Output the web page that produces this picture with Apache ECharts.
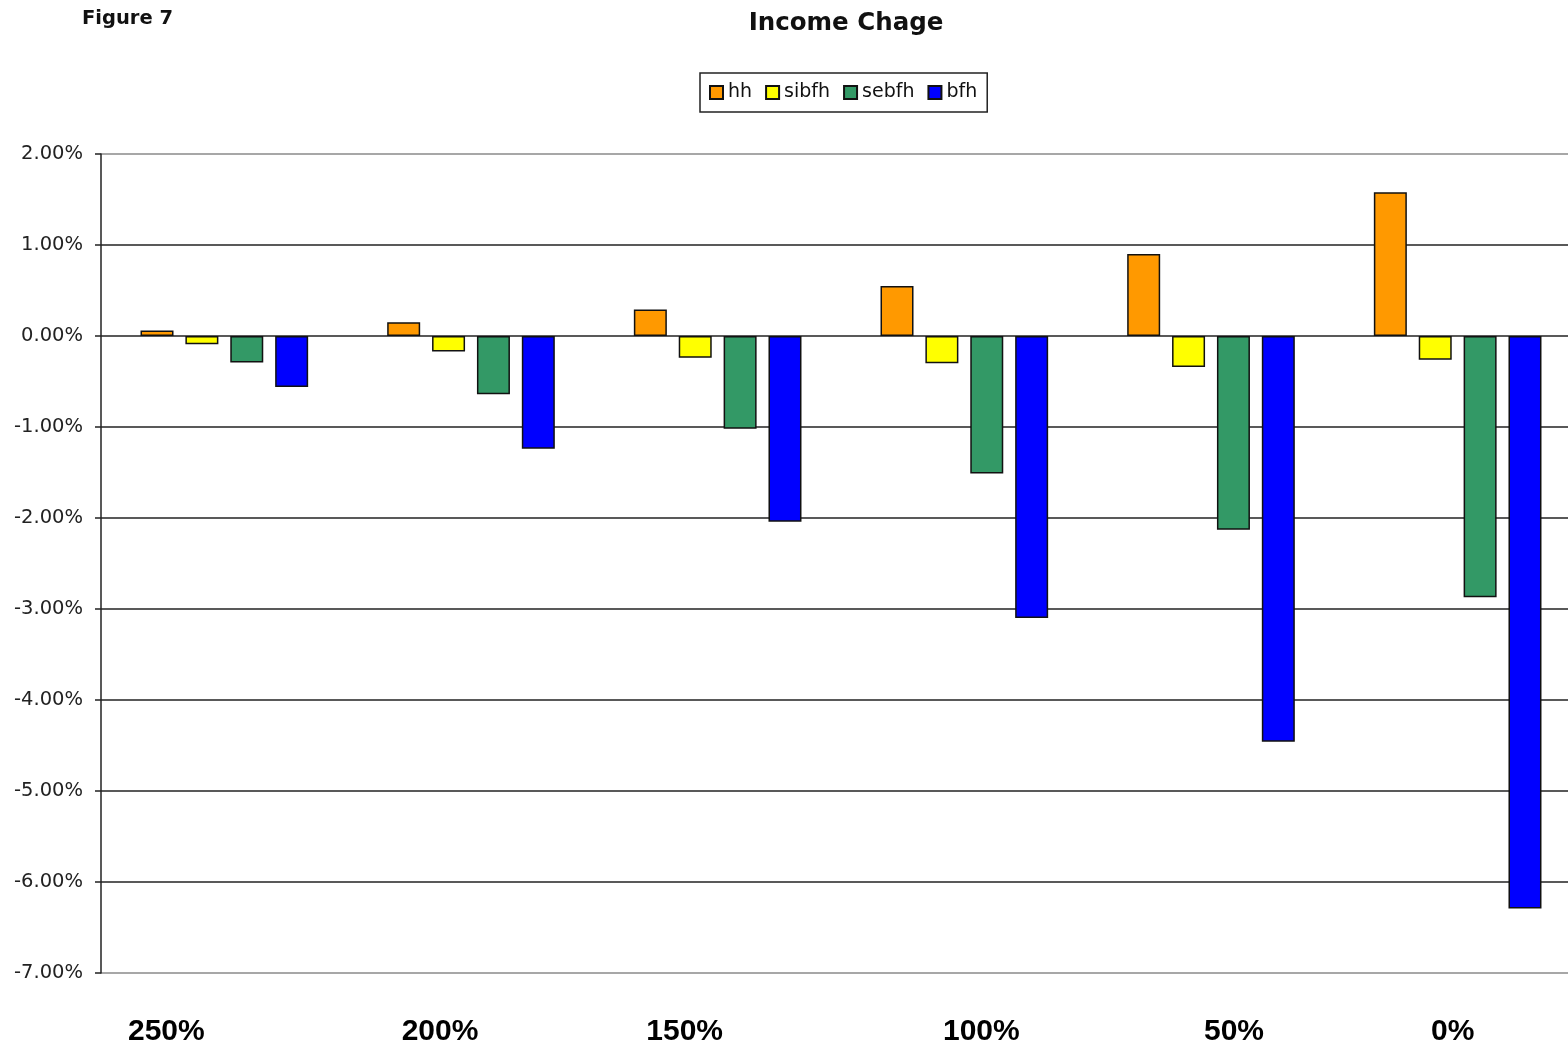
<!DOCTYPE html>
<html>
<head>
<meta charset="utf-8">
<script src="https://cdn.jsdelivr.net/npm/echarts@6/dist/echarts.min.js"></script>
<style>
  html, body { margin: 0; padding: 0; background: #fff; }
  #chart { width: 1568px; height: 1050px; }
</style>
</head>
<body>
<div id="chart"></div>
<script>
// Income change by threshold level (percent)
const categories = ['250%', '200%', '150%', '100%', '50%', '0%'];
const hh    = [0.06, 0.15, 0.29, 0.55, 0.90, 1.58];
const sibfh = [-0.09, -0.17, -0.24, -0.30, -0.34, -0.26];
const sebfh = [-0.29, -0.64, -1.02, -1.51, -2.13, -2.87];
const bfh   = [-0.56, -1.24, -2.04, -3.10, -4.46, -6.29];
const yTicks = { min: -7, max: 2, step: 1 };

// horizontal nudge of each category caption (px, negative = left)
const captionNudge = [-58, -31, -33, 17, 23, -5];

const sans = '"DejaVu Sans", Verdana, sans-serif';
const arial = '"Liberation Sans", Arial, sans-serif';

function barSeries(name, data, color) {
  return {
    name: name,
    type: 'bar',
    data: data,
    barWidth: 33,
    barGap: '36%',
    itemStyle: { color: color, borderColor: '#111', borderWidth: 1.5 },
    emphasis: { disabled: true }
  };
}

const rich = {};
categories.forEach((c, i) => {
  const d = captionNudge[i];
  rich['c' + i] = {
    fontFamily: arial, fontSize: 30, fontWeight: 'bold', color: '#000',
    padding: d < 0 ? [0, -2 * d, 0, 0] : [0, 0, 0, 2 * d]
  };
});

const splitColors = [];
for (let v = yTicks.min; v <= yTicks.max; v += yTicks.step) {
  splitColors.push(v === yTicks.min || v === yTicks.max ? '#8a8a8a' : '#222');
}

const chart = echarts.init(document.getElementById('chart'), null, { renderer: 'canvas' });
chart.setOption({
  animation: false,
  backgroundColor: '#fff',
  title: [
    {
      text: 'Figure 7', left: 77, top: 4,
      textStyle: { fontFamily: sans, fontSize: 19.5, fontWeight: 'bold', color: '#111' }
    },
    {
      text: 'Income Chage', left: 841, top: 6, textAlign: 'center',
      textStyle: { fontFamily: sans, fontSize: 24.5, fontWeight: 'bold', color: '#111' }
    }
  ],
  legend: {
    left: 700, top: 73,
    padding: [10, 10, 10, 9],
    borderColor: '#222', borderWidth: 1.5,
    itemWidth: 13, itemHeight: 13, itemGap: 13,
    icon: 'rect',
    textStyle: { fontFamily: sans, fontSize: 19, color: '#111' },
    data: ['hh', 'sibfh', 'sebfh', 'bfh']
  },
  grid: {
    left: 101, top: 154, width: 1480, height: 819,
    containLabel: false, outerBoundsMode: 'none'
  },
  xAxis: {
    type: 'category',
    data: categories,
    axisLine: { show: false },
    axisTick: { show: false },
    axisLabel: {
      margin: 44,
      formatter: (v, i) => '{c' + i + '|' + v + '}',
      rich: rich
    }
  },
  yAxis: {
    type: 'value',
    min: yTicks.min, max: yTicks.max, interval: yTicks.step,
    axisLine: { show: true, lineStyle: { color: '#222', width: 1.5 } },
    axisTick: { show: true, length: 6, lineStyle: { color: '#222', width: 1.5 } },
    splitLine: { show: true, lineStyle: { color: splitColors, width: 1.5 } },
    axisLabel: {
      margin: 18,
      fontFamily: sans, fontSize: 19.5, color: '#222',
      formatter: v => v.toFixed(2) + '%'
    }
  },
  series: [
    barSeries('hh', hh, '#FF9900'),
    barSeries('sibfh', sibfh, '#FFFF00'),
    barSeries('sebfh', sebfh, '#339966'),
    barSeries('bfh', bfh, '#0000FF')
  ]
});
</script>
</body>
</html>
